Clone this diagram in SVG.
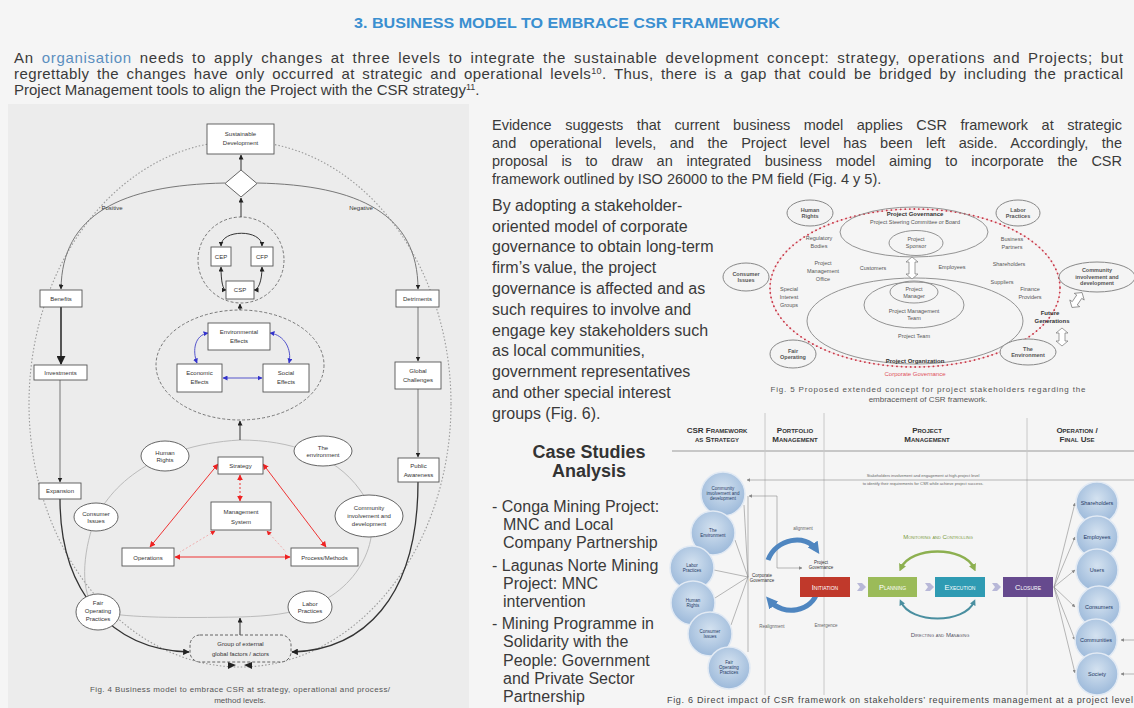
<svg xmlns="http://www.w3.org/2000/svg" width="1134" height="708" viewBox="0 0 1134 708">
<style>
text{font-family:"Liberation Sans",Arial,sans-serif}
.n{font-size:6px;fill:#333;text-anchor:middle}
.box{fill:#fff;stroke:#555;stroke-width:.9}
.ell{fill:#fff;stroke:#555;stroke-width:.9}
.e5{fill:#f4f4f4;stroke:#888;stroke-width:1}
.i5{fill:none;stroke:#888;stroke-width:.9}
.f5{font-size:5.5px;fill:#555;text-anchor:middle}
.f5b{font-size:6px;fill:#333;font-weight:bold;text-anchor:middle}
.c6{fill:url(#gb);stroke:#e2eaf4;stroke-width:1.5}
.t6{font-size:4.5px;fill:#1f3864;text-anchor:middle}
.r6{font-size:5.5px;fill:#1f3864;text-anchor:middle}
.h6{font-size:8px;fill:#333;text-anchor:middle;font-variant:small-caps;font-weight:bold}
.p6{font-size:7.5px;fill:#fff;text-anchor:middle;font-variant:small-caps}
.ln{stroke:#8a8a8a;stroke-width:.6;fill:none}
.vr{stroke:#c8c8c8;stroke-width:1}
.body{font-size:15px;fill:#3a3a3a}
.ev{font-size:14.5px;fill:#3a3a3a}
.col{font-size:16px;fill:#3a3a3a}
.cap{font-size:8px;fill:#555;text-anchor:middle}
.k{stroke:#333;stroke-width:1;fill:none}
.g{stroke:#777;stroke-width:1;fill:none}
.red{stroke:#e33;stroke-width:1;fill:none}
.blu{stroke:#55c;stroke-width:1;fill:none}
</style>
<defs>
<marker id="ab" viewBox="0 0 10 10" refX="9" refY="5" markerWidth="5" markerHeight="5" orient="auto-start-reverse"><path d="M0,0 L10,5 L0,10 z" fill="#222"/></marker>
<marker id="ar" viewBox="0 0 10 10" refX="9" refY="5" markerWidth="6" markerHeight="6" orient="auto-start-reverse"><path d="M0,0 L10,5 L0,10 z" fill="#e22"/></marker>
<marker id="au" viewBox="0 0 10 10" refX="9" refY="5" markerWidth="5" markerHeight="5" orient="auto-start-reverse"><path d="M0,0 L10,5 L0,10 z" fill="#33c"/></marker>
<marker id="ag" viewBox="0 0 10 10" refX="9" refY="5" markerWidth="6" markerHeight="6" orient="auto-start-reverse"><path d="M0,0 L10,5 L0,10 z" fill="#888"/></marker>
<marker id="abl" viewBox="0 0 10 10" refX="5" refY="5" markerWidth="2.4" markerHeight="2.4" orient="auto"><path d="M0,0 L10,5 L0,10 z" fill="#4f86c0"/></marker>
<marker id="agr" viewBox="0 0 10 10" refX="5" refY="5" markerWidth="3" markerHeight="3" orient="auto-start-reverse"><path d="M0,0 L10,5 L0,10 z" fill="#8db050"/></marker>
<marker id="atl" viewBox="0 0 10 10" refX="5" refY="5" markerWidth="3" markerHeight="3" orient="auto-start-reverse"><path d="M0,0 L10,5 L0,10 z" fill="#4a8fa0"/></marker>
<radialGradient id="gb" cx=".5" cy=".4" r=".6"><stop offset="0" stop-color="#d4e2f0"/><stop offset="1" stop-color="#9cb9da"/></radialGradient>
</defs>

<rect x="0" y="0" width="1134" height="708" fill="#f5f5f5"/>
<rect x="8" y="104" width="461" height="604" fill="#ececec"/>

<g id="header">
<text x="567" y="28" font-size="15.5" font-weight="bold" fill="#3a8fd0" text-anchor="middle" textLength="426" lengthAdjust="spacingAndGlyphs">3. BUSINESS MODEL TO EMBRACE CSR FRAMEWORK</text>
<text x="14" y="63" class="body" word-spacing="3" textLength="1109" lengthAdjust="spacing">An <tspan fill="#5b8fc0">organisation</tspan> needs to apply changes at three levels to integrate the sustainable development concept: strategy, operations and Projects; but</text>
<text x="14" y="79" class="body" word-spacing="3" textLength="1109" lengthAdjust="spacing">regrettably the changes have only occurred at strategic and operational levels<tspan font-size="9" dy="-5">10</tspan><tspan dy="5">. Thus, there is a gap that could be bridged by including the practical</tspan></text>
<text x="14" y="95" class="body">Project Management tools to align the Project with the CSR strategy<tspan font-size="9" dy="-5">11</tspan><tspan dy="5">.</tspan></text>
</g>

<g id="evidence-text">
<text x="492" y="130" class="ev" word-spacing="9.5" textLength="630" lengthAdjust="spacing">Evidence suggests that current business model applies CSR framework at strategic</text>
<text x="492" y="148" class="ev" word-spacing="9.4" textLength="630" lengthAdjust="spacing">and operational levels, and the Project level has been left aside. Accordingly, the</text>
<text x="492" y="166" class="ev" word-spacing="9.7" textLength="630" lengthAdjust="spacing">proposal is to draw an integrated business model aiming to incorporate the CSR</text>
<text x="492" y="184" class="ev">framework outlined by ISO 26000 to the PM field (Fig. 4 y 5).</text>
</g>

<g id="stakeholder-text">
<text x="492" y="211" class="col">By adopting a stakeholder-</text>
<text x="492" y="232" class="col">oriented model of corporate</text>
<text x="492" y="252" class="col">governance to obtain long-term</text>
<text x="492" y="273" class="col">firm’s value, the project</text>
<text x="492" y="294" class="col">governance is affected and as</text>
<text x="492" y="315" class="col">such requires to involve and</text>
<text x="492" y="336" class="col">engage key stakeholders such</text>
<text x="492" y="356" class="col">as local communities,</text>
<text x="492" y="377" class="col">government representatives</text>
<text x="492" y="398" class="col">and other special interest</text>
<text x="492" y="419" class="col">groups (Fig. 6).</text>
</g>

<g id="case-studies">
<text x="589" y="458" font-size="18" font-weight="bold" fill="#333" text-anchor="middle">Case Studies</text>
<text x="589" y="477" font-size="18" font-weight="bold" fill="#333" text-anchor="middle">Analysis</text>
<text x="492" y="512" class="col">- Conga Mining Project:</text>
<text x="503" y="530" class="col">MNC and Local</text>
<text x="503" y="548" class="col">Company Partnership</text>
<text x="492" y="571" class="col">- Lagunas Norte Mining</text>
<text x="503" y="589" class="col">Project: MNC</text>
<text x="503" y="607" class="col">intervention</text>
<text x="492" y="629" class="col">- Mining Programme in</text>
<text x="503" y="647" class="col">Solidarity with the</text>
<text x="503" y="666" class="col">People: Government</text>
<text x="503" y="684" class="col">and Private Sector</text>
<text x="503" y="702" class="col">Partnership</text>
</g>

<!-- ================= FIG 4 ================= -->
<g id="fig4-frames">
<ellipse cx="240" cy="404" rx="211" ry="263" fill="none" stroke="#9a9a9a" stroke-width="1.1" stroke-dasharray="1.5 2"/>
<circle cx="241" cy="260" r="43" fill="none" stroke="#777" stroke-width="1" stroke-dasharray="3 2"/>
<ellipse cx="240" cy="365" rx="84" ry="55" fill="none" stroke="#777" stroke-width="1" stroke-dasharray="3 2"/>
<path d="M240,440 C290,440 335,455 360,490 C390,530 360,590 310,606 C290,614 270,616 240,617 C180,618 130,618 100,612 C80,600 82,560 92,528 C105,490 150,445 240,440 Z" fill="none" stroke="#bbb" stroke-width="1"/>
</g>

<g id="connectors">
<g id="fig4-connectors">
<line x1="241" y1="170" x2="241" y2="155" class="k" marker-end="url(#ab)"/>
<line x1="241" y1="217" x2="241" y2="198" class="k" marker-end="url(#ab)"/>
<path d="M225,183 C120,185 62,215 61,289" class="g" marker-end="url(#ab)"/>
<path d="M257,183 C360,185 418,215 418,289" class="g" marker-end="url(#ab)"/>
<path d="M221,246 C221,229 262,229 262,246" class="k" marker-start="url(#ab)" marker-end="url(#ab)"/>
<path d="M221,267 C221,282 223,290 226,290" class="k" marker-start="url(#ab)" marker-end="url(#ab)"/>
<path d="M262,267 C262,282 258,290 254,290" class="k" marker-start="url(#ab)" marker-end="url(#ab)"/>
<line x1="240" y1="310" x2="240" y2="304" class="k" marker-end="url(#ab)"/>
<path d="M208,333 C195,335 192,350 197,363" class="blu" marker-start="url(#au)" marker-end="url(#au)"/>
<path d="M270,333 C285,335 292,350 289,363" class="blu" marker-start="url(#au)" marker-end="url(#au)"/>
<line x1="223" y1="378" x2="262" y2="378" class="blu" marker-start="url(#au)" marker-end="url(#au)"/>
<line x1="240" y1="440" x2="240" y2="421" class="k" marker-end="url(#ab)"/>
<line x1="61" y1="307" x2="61" y2="364" stroke="#444" stroke-width="1.8" marker-end="url(#ab)"/>
<line x1="60" y1="380" x2="60" y2="482" class="g" marker-end="url(#ab)"/>
<line x1="418" y1="307" x2="418" y2="361" class="g" marker-end="url(#ab)"/>
<line x1="418" y1="389" x2="418" y2="457" class="g" marker-end="url(#ab)"/>
<path d="M60,499 C60,590 110,650 189,652" stroke="#333" stroke-width="1.3" fill="none" marker-end="url(#ab)"/>
<path d="M418,482 C418,600 362,650 292,652" stroke="#333" stroke-width="1.3" fill="none" marker-end="url(#ab)"/>
<line x1="240" y1="635" x2="240" y2="618" class="k" marker-end="url(#ab)"/>
<line x1="218" y1="464" x2="150" y2="547" class="red" marker-start="url(#ar)" marker-end="url(#ar)"/>
<line x1="263" y1="464" x2="326" y2="547" class="red" marker-start="url(#ar)" marker-end="url(#ar)"/>
<line x1="175" y1="557" x2="290" y2="557" class="red" marker-start="url(#ar)" marker-end="url(#ar)"/>
<line x1="240" y1="475" x2="240" y2="501" class="red" stroke-dasharray="2 2" marker-start="url(#ar)" marker-end="url(#ar)"/>
<line x1="215" y1="531" x2="180" y2="552" stroke="#f0a0a0" stroke-width=".8" stroke-dasharray="2 2" marker-start="url(#ar)"/>
<line x1="267" y1="531" x2="286" y2="552" stroke="#f0a0a0" stroke-width=".8" stroke-dasharray="2 2" marker-start="url(#ar)"/>
<path d="M228,669 L236,665 L228,662 Z M252,669 L244,665 L252,662 Z" fill="#222"/>
</g>
<g id="fig6-connectors">
<line x1="672" y1="451" x2="1134" y2="451" stroke="#999" stroke-width="1"/>
<line x1="765" y1="413" x2="765" y2="695" class="vr"/>
<line x1="824" y1="413" x2="824" y2="695" class="vr"/>
<line x1="1027" y1="418" x2="1027" y2="695" class="vr"/>
<line x1="1134" y1="480" x2="747" y2="480" class="ln" marker-end="url(#ag)"/>
<line x1="748" y1="496" x2="748" y2="652" class="ln"/>
<polyline points="802,568 777,568 777,496 749,496" class="ln" marker-start="url(#ag)" marker-end="url(#ag)"/>
<line x1="744" y1="505" x2="748" y2="577" class="ln"/>
<line x1="735" y1="540" x2="748" y2="577" class="ln"/>
<line x1="714" y1="570" x2="748" y2="577" class="ln"/>
<line x1="715" y1="598" x2="748" y2="577" class="ln"/>
<line x1="731" y1="625" x2="748" y2="577" class="ln"/>
<path d="M768,560 C776,538 806,534 816,549" stroke="#4f86c0" stroke-width="5" fill="none" marker-end="url(#abl)"/>
<path d="M818,590 C812,613 783,616 770,601" stroke="#4f86c0" stroke-width="5" fill="none" marker-end="url(#abl)"/>
<path d="M901,568 C911,546 964,546 974,568" stroke="#8db050" stroke-width="2.5" fill="none" marker-start="url(#agr)" marker-end="url(#agr)"/>
<path d="M901,602 C911,624 964,624 974,602" stroke="#4a8fa0" stroke-width="2" fill="none" marker-start="url(#atl)" marker-end="url(#atl)"/>
<line x1="1054" y1="587" x2="1075" y2="503" class="ln" marker-end="url(#ag)"/>
<line x1="1054" y1="587" x2="1075" y2="537" class="ln" marker-end="url(#ag)"/>
<line x1="1054" y1="587" x2="1075" y2="570" class="ln" marker-end="url(#ag)"/>
<line x1="1054" y1="587" x2="1075" y2="607" class="ln" marker-end="url(#ag)"/>
<line x1="1054" y1="587" x2="1075" y2="640" class="ln" marker-end="url(#ag)"/>
<line x1="1054" y1="587" x2="1075" y2="673" class="ln" marker-end="url(#ag)"/>
<line x1="1134" y1="640" x2="1121" y2="640" class="ln" marker-end="url(#ag)"/>
<line x1="1134" y1="674" x2="1121" y2="674" class="ln" marker-end="url(#ag)"/>
<path d="M857,583 h5 l4,4 l-4,4 h-5 l3,-4 z M925,583 h5 l4,4 l-4,4 h-5 l3,-4 z M992,583 h5 l4,4 l-4,4 h-5 l3,-4 z" fill="#b8b8d8"/>
</g>
</g>

<g id="n-sustainable"><rect x="207" y="124" width="67" height="30" class="box"/><text x="240.5" y="136" class="n">Sustainable</text><text x="240.5" y="145" class="n">Development</text></g>
<g id="n-decision"><path d="M241,170 L257,183.5 L241,197 L225,183.5 Z" class="box"/></g>
<text x="112" y="210" class="n">Positive</text>
<text x="361" y="210" class="n">Negative</text>
<g id="n-cep"><rect x="211" y="247" width="20" height="19" class="box"/><text x="221" y="258.5" class="n" font-size="5">CEP</text></g>
<g id="n-cfp"><rect x="251" y="247" width="22" height="19" class="box"/><text x="262" y="258.5" class="n" font-size="5">CFP</text></g>
<g id="n-csp"><rect x="226" y="281" width="28" height="18" class="box"/><text x="240" y="292" class="n" font-size="5">CSP</text></g>
<g id="n-env-effects"><rect x="208" y="323" width="62" height="27" class="box"/><text x="239" y="334" class="n">Environmental</text><text x="239" y="343" class="n">Effects</text></g>
<g id="n-eco-effects"><rect x="177" y="364" width="45" height="28" class="box"/><text x="199.5" y="375" class="n">Economic</text><text x="199.5" y="384" class="n">Effects</text></g>
<g id="n-soc-effects"><rect x="263" y="364" width="46" height="28" class="box"/><text x="286" y="375" class="n">Social</text><text x="286" y="384" class="n">Effects</text></g>
<g id="n-benefits"><rect x="40" y="290" width="42" height="17" class="box"/><text x="61" y="300.5" class="n">Benefits</text></g>
<g id="n-investments"><rect x="34" y="365" width="53" height="15" class="box"/><text x="60.5" y="374.5" class="n">Investments</text></g>
<g id="n-expansion"><rect x="39" y="483" width="42" height="16" class="box"/><text x="60" y="493" class="n">Expansion</text></g>
<g id="n-detriments"><rect x="396" y="290" width="43" height="17" class="box"/><text x="417.5" y="300.5" class="n">Detriments</text></g>
<g id="n-global"><rect x="395" y="362" width="46" height="27" class="box"/><text x="418" y="373" class="n">Global</text><text x="418" y="382" class="n">Challenges</text></g>
<g id="n-public"><rect x="398" y="458" width="41" height="24" class="box"/><text x="418.5" y="468" class="n">Public</text><text x="418.5" y="476.5" class="n">Awareness</text></g>
<g id="n-human4"><ellipse cx="165" cy="456" rx="24" ry="15" class="ell"/><text x="165" y="454.5" class="n">Human</text><text x="165" y="461.5" class="n">Rights</text></g>
<g id="n-environment4"><ellipse cx="323" cy="451" rx="29" ry="15" class="ell"/><text x="323" y="449.5" class="n">The</text><text x="323" y="456.5" class="n">environment</text></g>
<g id="n-consumer4"><ellipse cx="96" cy="517" rx="22" ry="14" class="ell"/><text x="96" y="515.5" class="n">Consumer</text><text x="96" y="522.5" class="n">Issues</text></g>
<g id="n-community4"><ellipse cx="369" cy="516" rx="34" ry="21" class="ell"/><text x="369" y="510" class="n">Community</text><text x="369" y="518" class="n">involvement and</text><text x="369" y="526" class="n">development</text></g>
<g id="n-fair4"><ellipse cx="98" cy="612" rx="22" ry="18" class="ell"/><text x="98" y="605" class="n">Fair</text><text x="98" y="613" class="n">Operating</text><text x="98" y="621" class="n">Practices</text></g>
<g id="n-labor4"><ellipse cx="310" cy="607" rx="22" ry="16" class="ell"/><text x="310" y="605.5" class="n">Labor</text><text x="310" y="612.5" class="n">Practices</text></g>
<g id="n-strategy"><rect x="218" y="457" width="45" height="17" class="box"/><text x="240.5" y="467.5" class="n">Strategy</text></g>
<g id="n-mgmt"><rect x="211" y="502" width="60" height="28" class="box"/><text x="241" y="513.5" class="n" font-size="7">Management</text><text x="241" y="523.5" class="n" font-size="7">System</text></g>
<g id="n-operations"><rect x="122" y="548" width="52" height="18" class="box"/><text x="148" y="559.5" class="n">Operations</text></g>
<g id="n-process"><rect x="291" y="548" width="67" height="18" class="box"/><text x="324.5" y="559.5" class="n">Process/Methods</text></g>
<g id="n-group"><rect x="190" y="635" width="101" height="27" rx="10" fill="#ececec" stroke="#555" stroke-width=".9" stroke-dasharray="3 2"/><text x="240.5" y="646" class="n">Group of external</text><text x="240.5" y="656" class="n">global factors / actors</text></g>
<text x="240" y="692" class="cap" textLength="300" lengthAdjust="spacing">Fig. 4 Business model to embrace CSR at strategy, operational and process/</text>
<text x="240" y="703" class="cap">method levels.</text>

<!-- ================= FIG 5 ================= -->
<g id="fig5-frame">
<ellipse cx="915" cy="288" rx="145" ry="79" fill="none" stroke="#f2c4c8" stroke-width=".8"/>
<ellipse cx="915" cy="288" rx="145" ry="79" fill="none" stroke="#c83a4a" stroke-width="1.8" stroke-dasharray=".1 4.5" stroke-linecap="round"/>
<ellipse cx="914" cy="232" rx="74" ry="25" class="i5"/>
<ellipse cx="915" cy="321" rx="108" ry="43" class="i5"/>
</g>
<g id="n5-gov"><text x="915" y="216" class="f5b">Project Governance</text><text x="915" y="224" class="f5">Project Steering Committee or Board</text></g>
<g id="n5-sponsor"><ellipse cx="916" cy="243" rx="27" ry="12.5" class="i5"/><text x="916" y="241" class="f5">Project</text><text x="916" y="248" class="f5">Sponsor</text></g>
<g id="n5-pmt"><ellipse cx="914" cy="305" rx="50" ry="23" class="i5"/><text x="914" y="313" class="f5">Project Management</text><text x="914" y="320" class="f5">Team</text></g>
<g id="n5-pm"><ellipse cx="914" cy="292" rx="24" ry="11" class="i5"/><text x="914" y="290.5" class="f5">Project</text><text x="914" y="297.5" class="f5">Manager</text></g>
<polygon points="912,257 918,262 915,262 915,274 918,274 912,279 906,274 909,274 909,262 906,262" fill="#fff" stroke="#777" stroke-width=".7"/>
<polygon points="1062,328 1068,333 1065,333 1065,341 1068,341 1062,346 1056,341 1059,341 1059,333 1056,333" fill="#fff" stroke="#777" stroke-width=".7"/>
<polygon transform="translate(1077,300) rotate(34)" points="0,-9 6,-4 3,-4 3,4 6,4 0,9 -6,4 -3,4 -3,-4 -6,-4" fill="#fff" stroke="#777" stroke-width=".7"/>
<g id="fig5-labels">
<text x="819" y="240" class="f5">Regulatory</text><text x="819" y="248" class="f5">Bodies</text>
<text x="1012" y="241" class="f5">Business</text><text x="1012" y="249" class="f5">Partners</text>
<text x="823" y="265" class="f5">Project</text><text x="823" y="273" class="f5">Management</text><text x="823" y="281" class="f5">Office</text>
<text x="873" y="270" class="f5">Customers</text>
<text x="952" y="269" class="f5">Employees</text>
<text x="1009" y="266" class="f5">Shareholders</text>
<text x="1002" y="284" class="f5">Suppliers</text>
<text x="1030" y="291" class="f5">Finance</text><text x="1030" y="299" class="f5">Providers</text>
<text x="789" y="291" class="f5">Special</text><text x="789" y="299" class="f5">Interest</text><text x="789" y="307" class="f5">Groups</text>
<text x="914" y="338" class="f5">Project Team</text>
<text x="915" y="363" class="f5b">Project Organization</text>
<text x="915" y="376" font-size="6" fill="#e0505a" text-anchor="middle">Corporate Governance</text>
<text x="1050" y="315" class="f5b" font-size="6.5">Future</text><text x="1052" y="323" class="f5b" font-size="6.5">Generations</text>
</g>
<g id="n5-human"><ellipse cx="810" cy="213" rx="23" ry="13" class="e5"/><text x="810" y="211.5" class="f5" font-weight="bold">Human</text><text x="810" y="218" class="f5" font-weight="bold">Rights</text></g>
<g id="n5-labor"><ellipse cx="1018" cy="213" rx="22" ry="13" class="e5"/><text x="1018" y="211.5" class="f5" font-weight="bold">Labor</text><text x="1018" y="218" class="f5" font-weight="bold">Practices</text></g>
<g id="n5-consumer"><ellipse cx="746" cy="277" rx="23" ry="14" class="e5"/><text x="746" y="275.5" class="f5" font-weight="bold">Consumer</text><text x="746" y="282" class="f5" font-weight="bold">Issues</text></g>
<g id="n5-community"><ellipse cx="1097" cy="277" rx="38" ry="15" class="e5"/><text x="1097" y="272" class="f5" font-weight="bold">Community</text><text x="1097" y="278.5" class="f5" font-weight="bold">involvement and</text><text x="1097" y="285" class="f5" font-weight="bold">development</text></g>
<g id="n5-fair"><ellipse cx="793" cy="354" rx="23" ry="14" class="e5"/><text x="793" y="352.5" class="f5" font-weight="bold">Fair</text><text x="793" y="359" class="f5" font-weight="bold">Operating</text></g>
<g id="n5-environment"><ellipse cx="1028" cy="352" rx="28" ry="13" class="e5"/><text x="1028" y="350.5" class="f5" font-weight="bold">The</text><text x="1028" y="357" class="f5" font-weight="bold">Environment</text></g>
<text x="928" y="392" font-size="8" fill="#555" text-anchor="middle" textLength="315" lengthAdjust="spacing">Fig. 5 Proposed extended concept for project stakeholders regarding the</text>
<text x="928" y="402" font-size="8" fill="#555" text-anchor="middle">embracement of CSR framework.</text>

<!-- ================= FIG 6 ================= -->
<g id="fig6-headers">
<text x="717" y="433" class="h6">CSR Framework</text><text x="717" y="442" class="h6">as Strategy</text>
<text x="795" y="433" class="h6">Portfolio</text><text x="795" y="442" class="h6">Management</text>
<text x="927" y="433" class="h6">Project</text><text x="927" y="442" class="h6">Management</text>
<text x="1077" y="433" class="h6">Operation /</text><text x="1077" y="442" class="h6">Final Use</text>
<text x="923" y="477" font-size="4" fill="#666" text-anchor="middle">Stakeholders involvement and engagement at high-project level</text>
<text x="923" y="485" font-size="4" fill="#666" text-anchor="middle">to identify their requirements for CSR while achieve project success.</text>
</g>
<g id="n6-community"><circle cx="723" cy="494" r="22" class="c6"/><text x="723" y="490" class="t6">Community</text><text x="723" y="495" class="t6">involvement and</text><text x="723" y="500" class="t6">development</text></g>
<g id="n6-environment"><circle cx="713" cy="533" r="22" class="c6"/><text x="713" y="532" class="t6">The</text><text x="713" y="537" class="t6">Environment</text></g>
<g id="n6-labor"><circle cx="692" cy="568" r="22" class="c6"/><text x="692" y="567" class="t6">Labor</text><text x="692" y="572" class="t6">Practices</text></g>
<g id="n6-human"><circle cx="693" cy="603" r="22" class="c6"/><text x="693" y="602" class="t6">Human</text><text x="693" y="607" class="t6">Rights</text></g>
<g id="n6-consumer"><circle cx="710" cy="634" r="22" class="c6"/><text x="710" y="633" class="t6">Consumer</text><text x="710" y="638" class="t6">Issues</text></g>
<g id="n6-fair"><circle cx="729" cy="668" r="21" class="c6"/><text x="729" y="664" class="t6">Fair</text><text x="729" y="669" class="t6">Operating</text><text x="729" y="674" class="t6">Practices</text></g>
<g id="fig6-labels">
<text x="762" y="577" font-size="4.5" fill="#333" text-anchor="middle">Corporate</text><text x="762" y="582" font-size="4.5" fill="#333" text-anchor="middle">Governance</text>
<text x="821" y="564" font-size="4.5" fill="#333" text-anchor="middle">Project</text><text x="821" y="569" font-size="4.5" fill="#333" text-anchor="middle">Governance</text>
<text x="803" y="530" font-size="4.5" fill="#666" text-anchor="middle">alignment</text>
<text x="772" y="628" font-size="4.5" fill="#666" text-anchor="middle">Realignment</text>
<text x="826" y="627" font-size="4.5" fill="#666" text-anchor="middle">Emergence</text>
<text x="938" y="539" font-size="6" fill="#7a9a40" text-anchor="middle" font-variant="small-caps">Monitoring and Controlling</text>
<text x="940" y="637" font-size="6" fill="#556" text-anchor="middle" font-variant="small-caps">Directing and Managing</text>
</g>
<g id="n6-initiation"><rect x="800" y="577" width="50" height="20" fill="#c0392b"/><text x="825" y="590" class="p6">Initiation</text></g>
<g id="n6-planning"><rect x="868" y="577" width="49" height="20" fill="#9bbb59"/><text x="892.5" y="590" class="p6">Planning</text></g>
<g id="n6-execution"><rect x="935" y="577" width="50" height="20" fill="#2f9bb3"/><text x="960" y="590" class="p6">Execution</text></g>
<g id="n6-closure"><rect x="1003" y="577" width="50" height="20" fill="#664a8e"/><text x="1028" y="590" class="p6">Closure</text></g>
<g id="n6-shareholders"><circle cx="1097" cy="503" r="21" class="c6"/><text x="1097" y="505" class="r6">Shareholders</text></g>
<g id="n6-employees"><circle cx="1097" cy="537" r="21" class="c6"/><text x="1097" y="539" class="r6">Employees</text></g>
<g id="n6-users"><circle cx="1097" cy="570" r="21" class="c6"/><text x="1097" y="572" class="r6">Users</text></g>
<g id="n6-consumers"><circle cx="1099" cy="607" r="21" class="c6"/><text x="1099" y="609" class="r6">Consumers</text></g>
<g id="n6-communities"><circle cx="1096" cy="640" r="21" class="c6"/><text x="1096" y="642" class="r6">Communities</text></g>
<g id="n6-society"><circle cx="1097" cy="674" r="21" class="c6"/><text x="1097" y="676" class="r6">Society</text></g>
<text x="667" y="703" font-size="9" fill="#444" textLength="466" lengthAdjust="spacing">Fig. 6 Direct impact of CSR framework on stakeholders’ requirements management at a project level</text>
</svg>
